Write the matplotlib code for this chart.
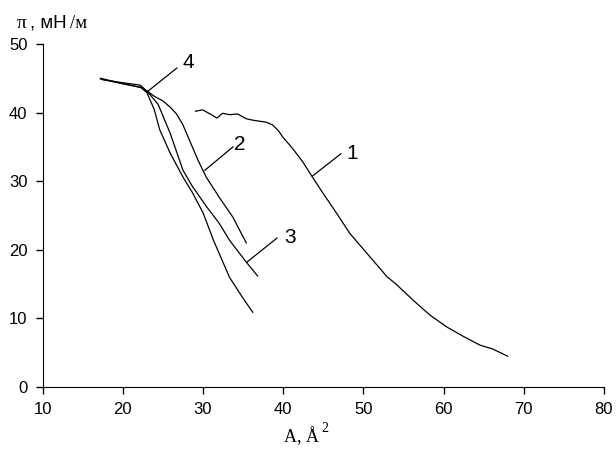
import matplotlib.pyplot as plt

# isotherm 1
a1 = [29.06, 29.95, 31.04, 31.74, 32.43, 33.32, 34.32, 35.41, 36.2, 37.89, 38.68,
      39.38, 39.97, 41.16, 42.45, 43.65, 44.94, 46.62, 48.31, 50.8, 52.06, 52.93,
      54.18, 54.8, 56.17, 58.29, 60.41, 62.4, 64.52, 66.14, 68.0]
p1 = [40.2, 40.4, 39.7, 39.2, 39.9, 39.7, 39.8, 39.1, 38.9, 38.6, 38.2,
      37.4, 36.4, 34.8, 32.8, 30.6, 28.3, 25.4, 22.4, 19.0, 17.3, 16.1,
      14.9, 14.2, 12.7, 10.5, 8.75, 7.43, 6.12, 5.54, 4.5]

# isotherm 2
a2 = [17.2, 20.0, 22.5, 23.9, 25.0, 25.9, 26.7, 27.5, 28.3, 29.4, 30.4, 32.0, 33.7, 35.4]
p2 = [44.9, 44.2, 43.6, 42.4, 41.7, 40.8, 39.8, 38.2, 36.0, 33.0, 30.6, 27.7, 24.8, 21.0]

# isotherm 3
a3 = [17.5, 19.7, 22.2, 23.4, 24.4, 25.9, 27.5, 28.7, 30.5, 32.0, 33.3, 35.4, 36.8]
p3 = [44.8, 44.4, 44.0, 42.6, 41.2, 37.0, 31.6, 29.2, 26.2, 23.9, 21.4, 18.2, 16.2]

# isotherm 4
a4 = [17.2, 19.7, 22.2, 23.0, 23.9, 24.6, 25.9, 27.5, 28.7, 30.0, 31.3, 33.3, 34.9, 36.2]
p4 = [45.0, 44.3, 43.7, 42.9, 40.5, 37.5, 34.1, 30.6, 28.3, 25.4, 21.4, 16.0, 13.1, 10.9]

labels = ['1', '2', '3', '4']
# leader line start (on curve), end, text position
lead_from = [(43.7, 30.8), (30.24, 31.6), (35.47, 18.2), (23.0, 43.0)]
lead_to = [(47.2, 34.0), (33.73, 35.0), (39.21, 21.7), (26.74, 46.5)]
text_at = [(48.6, 34.1), (34.55, 35.4), (40.85, 21.8), (28.15, 47.3)]

fig = plt.figure(figsize=(6.16, 4.49), dpi=100)
ax = fig.add_axes([0.0693, 0.138, 0.911, 0.764])

for a, p in [(a1, p1), (a2, p2), (a3, p3), (a4, p4)]:
    ax.plot(a, p, color='black', lw=0.9)

for lab, f, t, tx in zip(labels, lead_from, lead_to, text_at):
    ax.plot([f[0], t[0]], [f[1], t[1]], color='black', lw=0.9)
    ax.text(tx[0], tx[1], lab, fontsize=15, family='Liberation Sans',
            ha='center', va='center')

ax.set_xlim(10, 80)
ax.set_ylim(0, 50)
ax.set_xticks(range(10, 81, 10))
ax.set_yticks(range(0, 51, 10))
for s in ['top', 'right']:
    ax.spines[s].set_visible(False)
ax.tick_params(direction='out', length=5, width=1, labelsize=12, pad=6)
for t in ax.get_xticklabels() + ax.get_yticklabels():
    t.set_family('Liberation Sans')

fig.text(0.028, 0.948, 'π', fontsize=14, family='Liberation Serif', va='center')
fig.text(0.049, 0.948, ', мН', fontsize=13.5, family='Liberation Sans', va='center')
fig.text(0.113, 0.948, '/м', fontsize=13.5, family='Liberation Serif', va='center')

fig.text(0.49, 0.028, 'A, Å', fontsize=13, family='Liberation Serif',
         ha='center', va='center')
fig.text(0.527, 0.046, '2', fontsize=10, family='Liberation Serif',
         ha='center', va='center')

fig.savefig('out.png', dpi=100)
